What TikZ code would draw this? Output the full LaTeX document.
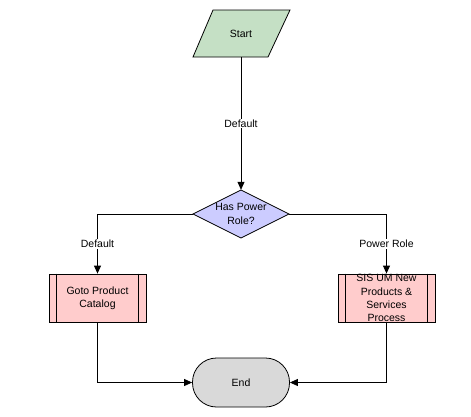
\documentclass[tikz,border=0pt]{standalone}
\usepackage{fontspec}
\setmainfont{Liberation Sans}
\usetikzlibrary{arrows.meta}
\definecolor{startgreen}{RGB}{197,224,197}
\definecolor{declav}{RGB}{204,204,255}
\definecolor{procpink}{RGB}{255,204,204}
\definecolor{endgray}{RGB}{217,217,217}
\begin{document}
\begin{tikzpicture}[x=1pt,y=-1pt,
  font=\fontsize{10.5}{13.2}\selectfont,
  outl/.style={draw=black, line width=0.8pt},
  conn/.style={draw=black, line width=0.8pt, -{Triangle[length=8pt,width=7pt]}},
  lbl/.style={fill=white, inner sep=1pt},
  txt/.style={inner sep=0pt, align=center},
  proc/.style={outl, fill=procpink, inner sep=0pt, align=center, minimum width=97pt, minimum height=48pt}]
\useasboundingbox (0,0) rectangle (471,416);
% Start
\filldraw[outl, fill=startgreen] (213,10) -- (290,10) -- (268,57) -- (193,57) -- cycle;
\node[txt, minimum width=97pt, minimum height=47pt] (start) at (241,33.5) {Start};
% Decision
\filldraw[outl, fill=declav] (241,190) -- (289,214) -- (241,238) -- (193,214) -- cycle;
\node[txt, minimum width=96pt, minimum height=48pt] (dec) at (241,214) {Has Power\\Role?};
% Processes
\node[proc] (goto) at (97.5,298) {Goto Product\\Catalog};
\draw[outl] ([xshift=8pt]goto.north west) -- ([xshift=8pt]goto.south west);
\draw[outl] ([xshift=-8pt]goto.north east) -- ([xshift=-8pt]goto.south east);
\node[proc] (serv) at (386.5,298) {SIS UM New\\Products \&\\Services\\Process};
\draw[outl] ([xshift=8pt]serv.north west) -- ([xshift=8pt]serv.south west);
\draw[outl] ([xshift=-8pt]serv.north east) -- ([xshift=-8pt]serv.south east);
% End
\node[outl, fill=endgray, rounded corners=24pt, minimum width=97pt, minimum height=49pt, inner sep=0pt] (end) at (241,382.5) {End};
% Connectors
\draw[conn] (start.south) -- node[lbl, pos=0.5] {Default} (dec.north);
\draw[conn] (dec.west) -| node[lbl, pos=0.75] {Default} (goto.north);
\draw[conn] (dec.east) -| node[lbl, pos=0.75] {Power Role} (serv.north);
\draw[conn] (goto.south) |- (end.west);
\draw[conn] (serv.south) |- (end.east);
\end{tikzpicture}
\end{document}
